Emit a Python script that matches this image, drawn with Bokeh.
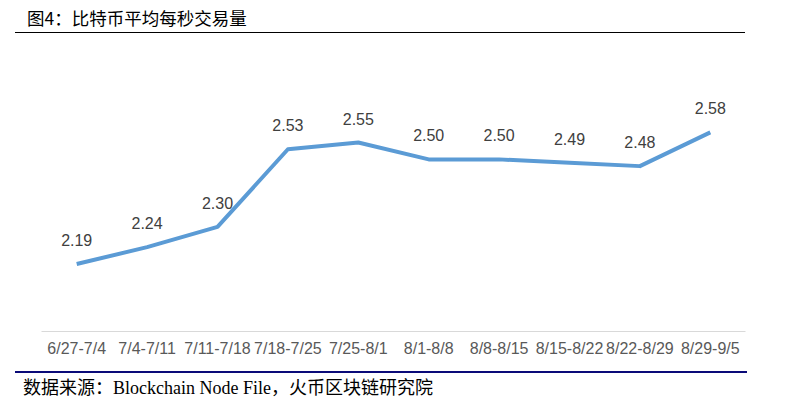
from bokeh.plotting import figure
from bokeh.models import ColumnDataSource, Div, Range1d
from bokeh.layouts import column
from bokeh.core.properties import value
from bokeh.embed import file_html
from bokeh.resources import INLINE

weeks = ["6/27-7/4", "7/4-7/11", "7/11-7/18", "7/18-7/25", "7/25-8/1",
         "8/1-8/8", "8/8-8/15", "8/15-8/22", "8/22-8/29", "8/29-9/5"]
tps = [2.19, 2.24, 2.30, 2.53, 2.55, 2.50, 2.50, 2.49, 2.48, 2.58]
labels = ["%.2f" % v for v in tps]

title_text = "图4：比特币平均每秒交易量"
source_text = "数据来源：Blockchain Node File，火币区块链研究院"

src = ColumnDataSource(dict(x=weeks, y=tps, lab=labels))

title = Div(
    text=f'<div style="margin-left:7px;width:730px;height:25px;border-bottom:1px solid #000;'
         f'box-sizing:border-box;padding-left:12px;font-family:\'Noto Sans CJK SC\';'
         f'font-size:17.5px;line-height:20px;color:#000;white-space:nowrap;">{title_text}</div>',
    width=773, height=26, margin=0)

p = figure(x_range=weeks, y_range=Range1d(1.99, 2.79), width=773, height=330,
           output_backend="svg", toolbar_location=None,
           min_border_left=33, min_border_right=36, min_border_top=27, min_border_bottom=33)
p.outline_line_color = None
p.xgrid.visible = False
p.ygrid.visible = False
p.yaxis.visible = False
p.xaxis.axis_line_color = "#d9d9d9"
p.xaxis.major_tick_line_color = None
p.xaxis.minor_tick_line_color = None
p.xaxis.major_label_text_font = "Liberation Sans"
p.xaxis.major_label_text_font_size = "16px"
p.xaxis.major_label_text_color = "#595959"
p.xaxis.major_label_standoff = 2

p.line("x", "y", source=src, line_color="#5B9BD5", line_width=4, line_join="round")
p.text("x", "y", text="lab", source=src, text_align="center", text_baseline="middle",
       y_offset=-24, text_font=value("Liberation Sans"), text_font_size="16px",
       text_color="#404040")

footer = Div(
    text=f'<div style="margin-left:7px;margin-top:7px;width:732px;border-top:2px solid #0a0a78;'
         f'padding-left:8px;padding-top:4px;font-family:\'Liberation Serif\',\'Noto Sans CJK SC\';'
         f'font-size:18px;line-height:22px;color:#000;white-space:nowrap;">{source_text}</div>',
    width=773, height=34, margin=0)

layout = column(title, p, footer, spacing=0, margin=(8, 8, 0, 8))
open("out.html", "w").write(file_html(layout, INLINE))
